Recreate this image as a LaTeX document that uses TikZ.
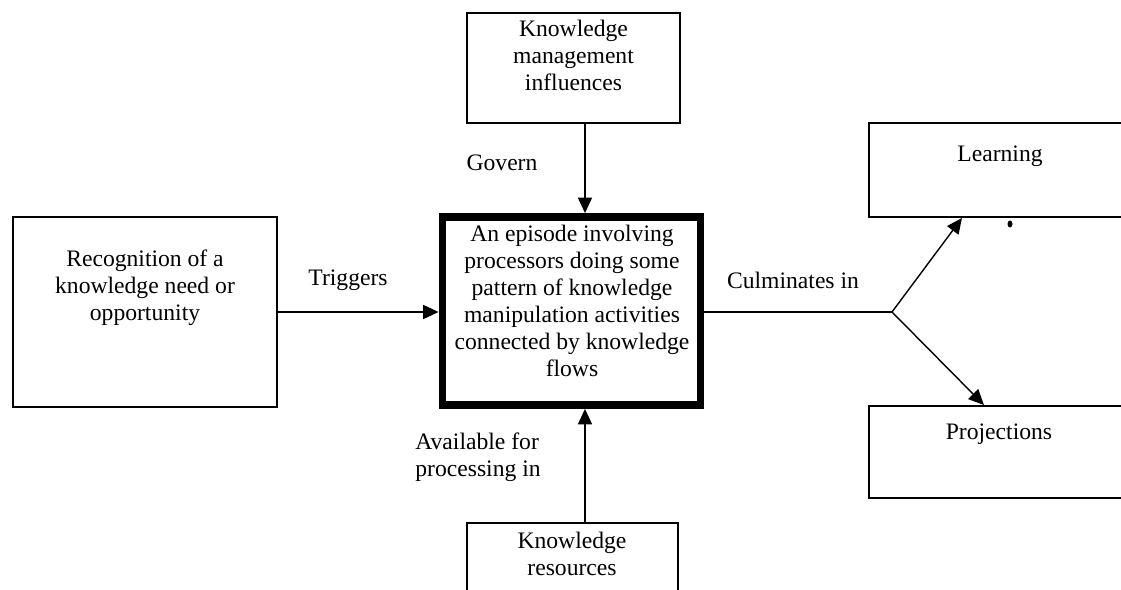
\documentclass[tikz,border=0pt]{standalone}
\usepackage{fontspec}
\setmainfont{Liberation Serif}
\usetikzlibrary{arrows.meta, positioning}

\tikzset{
  box/.style={draw, line width=1.4pt, inner sep=0pt},
  mainbox/.style={draw, line width=5.5pt, inner sep=0pt},
  txt/.style={align=center, inner sep=0pt, font=\fontsize{16.8}{19.2}\selectfont},
  lbl/.style={align=left, inner sep=0pt, font=\fontsize{16.8}{19.2}\selectfont},
  arr/.style={-{Triangle[length=11pt, width=10pt]}, line width=1pt}
}

\begin{document}
\begin{tikzpicture}[x=0.025cm, y=-0.025cm]
    \clip (0,0) rectangle (1121,590);
    \fill[white] (0,0) rectangle (1121,590);

    % boxes
    \node[box, minimum width=5.325cm, minimum height=2.75cm] (kmi) at (573.5,68) {};
    \node[box, minimum width=6.6cm, minimum height=4.75cm] (need) at (145,312) {};
    \node[mainbox, minimum width=6.45cm, minimum height=4.7cm] (episode) at (571.5,311) {};
    \node[box, minimum width=6.55cm, minimum height=2.35cm] (learn) at (1000,170) {};
    \node[box, minimum width=6.55cm, minimum height=2.3cm] (proj) at (1000,452) {};
    \node[box, minimum width=5.275cm, minimum height=2.25cm] (res) at (572.5,568) {};

    % box texts
    \node[txt] (kmitext) at (573.5,55) {Knowledge\\management\\influences};
    \node[txt] (needtext) at (145,288) {Recognition of a\\knowledge need or\\opportunity};
    \node[txt] (eptext) at (572,301) {An episode involving\\processors doing some\\pattern of knowledge\\manipulation activities\\connected by knowledge\\flows};
    \node[txt] (learntext) at (1000,156) {Learning};
    \node[txt] (projtext) at (999,434) {Projections};
    \node[txt] (restext) at (572,553.5) {Knowledge\\resources};

    % connector labels
    \node[lbl] (govern) at (502,163) {Govern};
    \node[lbl] (triggers) at (348,280) {Triggers};
    \node[lbl] (culm) at (793,280) {Culminates in};
    \node[lbl] (avail) at (478,457) {Available for\\processing in};

    % connectors
    \coordinate (gx) at (585,0);
    \coordinate (branch) at (892,312);
    \draw[arr] (gx |- kmi.south) -- (gx |- episode.north);
    \draw[arr] (gx |- res.north) -- (gx |- episode.south);
    \draw[arr] (need.east) -- (need.east -| episode.west);
    \draw[line width=1pt] (episode.east |- branch) -- (branch);
    \draw[arr] (branch) -- ([shift={(94,0)}]learn.south west);
    \draw[arr] (branch) -- ([shift={(116,0)}]proj.north west);
    \fill (1010,224) ellipse (2.5 and 3.5);
\end{tikzpicture}
\end{document}
